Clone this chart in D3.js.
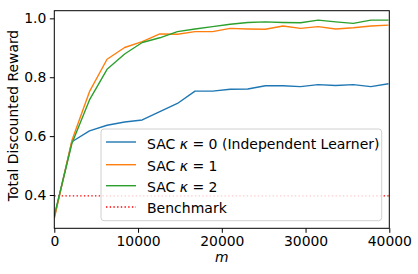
<!DOCTYPE html>
<html>
<head>
<meta charset="utf-8">
<script src="https://cdnjs.cloudflare.com/ajax/libs/d3/7.8.5/d3.min.js"></script>
<style>
  body { margin: 0; background: #fff; }
  svg text { font-family: "DejaVu Sans", sans-serif; fill: #000; }
</style>
</head>
<body>
<div id="chart"></div>
<script>
// data
var steps = [0, 2100, 4200, 6300, 8400, 10500, 12600, 14700, 16800, 18900,
             21000, 23100, 25200, 27300, 29400, 31500, 33600, 35700, 37800, 39900];
var sacK0 = [0.325, 0.581, 0.618, 0.637, 0.648, 0.655, 0.683, 0.711, 0.753, 0.753,
             0.759, 0.760, 0.771, 0.771, 0.768, 0.775, 0.772, 0.775, 0.768, 0.778];
var sacK1 = [0.320, 0.585, 0.751, 0.861, 0.901, 0.921, 0.947, 0.946, 0.955, 0.955,
             0.966, 0.964, 0.963, 0.974, 0.966, 0.972, 0.964, 0.968, 0.974, 0.977];
var sacK2 = [0.330, 0.575, 0.723, 0.827, 0.879, 0.918, 0.934, 0.955, 0.964, 0.972,
             0.980, 0.986, 0.988, 0.986, 0.985, 0.994, 0.988, 0.983, 0.994, 0.994];
var benchmark = 0.397;
var xTicks = [0, 10000, 20000, 30000, 40000];
var yTicks = [0.4, 0.6, 0.8, 1.0];

var series = [
  { label: "0 (Independent Learner)", values: sacK0, color: "#1f77b4" },
  { label: "1", values: sacK1, color: "#ff7f0e" },
  { label: "2", values: sacK2, color: "#2ca02c" }
];

var W = 418, H = 274;
var fs = "13.9px";
var margin = {top: 10.7, right: 28.7, bottom: 45.7, left: 54.3},
    width = W - margin.left - margin.right,
    height = H - margin.top - margin.bottom;

var svg = d3.select("#chart").append("svg")
    .attr("width", W)
    .attr("height", H);

var g = svg.append("g")
    .attr("transform", "translate(" + margin.left + "," + margin.top + ")");

var x = d3.scaleLinear().domain([0, 40000]).range([0, width]);
var y = d3.scaleLinear().domain([0.287, 1.026]).range([height, 0]);

g.append("clipPath").attr("id", "clip")
  .append("rect").attr("width", width).attr("height", height);

var plot = g.append("g").attr("clip-path", "url(#clip)");

// benchmark line
plot.append("line")
    .attr("x1", 0).attr("x2", width)
    .attr("y1", y(benchmark)).attr("y2", y(benchmark))
    .attr("stroke", "#ff0000")
    .attr("stroke-width", 1.4)
    .attr("stroke-dasharray", "1.4,2.3");

var line = d3.line()
    .x(function(d, i) { return x(steps[i]); })
    .y(function(d) { return y(d); });

series.forEach(function(s) {
  plot.append("path")
      .datum(s.values)
      .attr("fill", "none")
      .attr("stroke", s.color)
      .attr("stroke-width", 1.4)
      .attr("stroke-linejoin", "round")
      .attr("d", line);
});

// axes
var xAxis = g.append("g")
    .attr("transform", "translate(0," + height + ")")
    .call(d3.axisBottom(x).tickValues(xTicks).tickFormat(d3.format("d")).tickSizeOuter(0).tickSize(4.5).tickPadding(3.5));
var yAxis = g.append("g")
    .call(d3.axisLeft(y).tickValues(yTicks).tickFormat(d3.format(".1f")).tickSizeOuter(0).tickSize(4.5).tickPadding(3.5));

[xAxis, yAxis].forEach(function(a) {
  a.select(".domain").remove();
  a.selectAll("line").attr("stroke", "#000").attr("stroke-width", 1);
  a.selectAll("text").style("font-size", fs).attr("font-family", "DejaVu Sans");
});

// frame
g.append("rect")
    .attr("width", width).attr("height", height)
    .attr("fill", "none").attr("stroke", "#000").attr("stroke-width", 1);

// axis labels
svg.append("text")
    .attr("x", margin.left + width / 2)
    .attr("y", 262)
    .attr("text-anchor", "middle")
    .style("font-size", fs)
    .style("font-style", "italic")
    .text("m");

svg.append("text")
    .attr("transform", "translate(17.5," + (115.5) + ") rotate(-90)")
    .attr("text-anchor", "middle")
    .style("font-size", fs)
    .text("Total Discounted Reward");

// legend
var leg = svg.append("g").attr("transform", "translate(101,129)");
leg.append("rect")
    .attr("width", 280.7).attr("height", 91.7)
    .attr("rx", 3)
    .attr("fill", "#fff").attr("fill-opacity", 0.8)
    .attr("stroke", "#d0d0d0").attr("stroke-width", 1);

var rowY = [13, 35.7, 56.7, 78];
var textY = [20, 41.7, 63.3, 84];
series.forEach(function(s, i) {
  leg.append("line")
      .attr("x1", 5).attr("x2", 35)
      .attr("y1", rowY[i]).attr("y2", rowY[i])
      .attr("stroke", s.color).attr("stroke-width", 1.4);
  var t = leg.append("text")
      .attr("x", 46).attr("y", textY[i])
      .style("font-size", "14px");
  t.append("tspan").text("SAC ");
  t.append("tspan").style("font-style", "italic").text("κ");
  t.append("tspan").text(" = " + s.label);
});
leg.append("line")
    .attr("x1", 5).attr("x2", 35)
    .attr("y1", rowY[3]).attr("y2", rowY[3])
    .attr("stroke", "#ff0000").attr("stroke-width", 1.4)
    .attr("stroke-dasharray", "1.4,2.3");
leg.append("text")
    .attr("x", 46).attr("y", textY[3])
    .style("font-size", "14px")
    .text("Benchmark");
</script>
</body>
</html>
